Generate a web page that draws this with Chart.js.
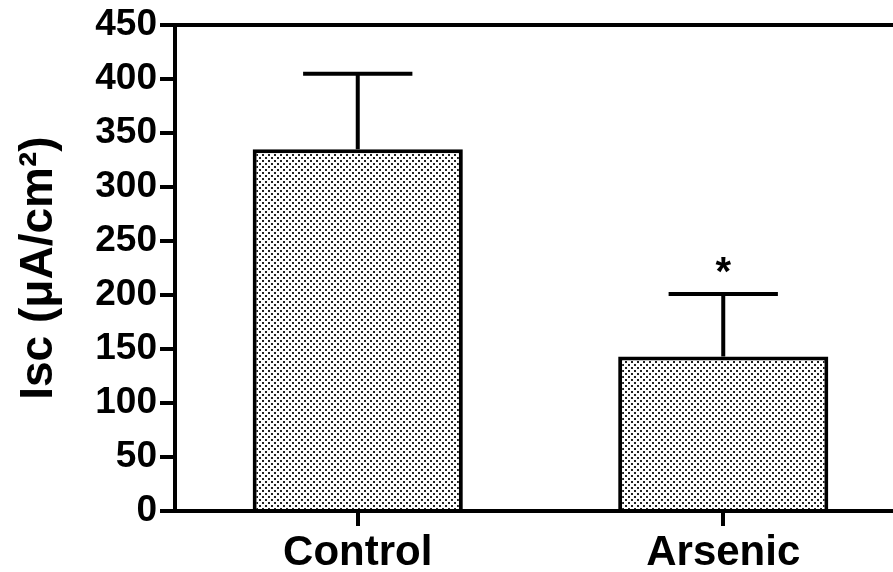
<!DOCTYPE html>
<html>
<head>
<meta charset="utf-8">
<script src="https://cdn.jsdelivr.net/npm/chart.js@4/dist/chart.umd.min.js"></script>
<style>
  html, body { margin: 0; padding: 0; background: #fff; overflow: hidden; }
  #wrap { width: 906px; height: 572px; }
</style>
</head>
<body>
<div id="wrap"><canvas id="c"></canvas></div>
<script>
"use strict";

var groups = ['Control', 'Arsenic'];
var means = [335, 143];
var errTops = [405, 201];
var marks = ['', '*'];
var yTicks = [0, 50, 100, 150, 200, 250, 300, 350, 400, 450];

var FONT = '"Liberation Sans", Arial, Helvetica, sans-serif';

function dotPattern() {
  var p = document.createElement('canvas');
  p.width = 6; p.height = 6;
  var g = p.getContext('2d');
  g.fillStyle = '#fff';
  g.fillRect(0, 0, 6, 6);
  g.fillStyle = '#222';
  g.fillRect(1, 1, 2, 2);
  g.fillRect(4, 4, 2, 2);
  return document.getElementById('c').getContext('2d').createPattern(p, 'repeat');
}

// error bars and significance marks
var errorBars = {
  id: 'errorBars',
  afterDatasetsDraw: function(chart) {
    var ctx = chart.ctx;
    var meta = chart.getDatasetMeta(0);
    var y = chart.scales.y;
    ctx.save();
    ctx.strokeStyle = '#000';
    ctx.lineWidth = 4;
    for (var i = 0; i < means.length; i++) {
      var bar = meta.data[i];
      var cx = bar.x;
      var half = bar.width * 0.26;
      var top = y.getPixelForValue(errTops[i]);
      var base = y.getPixelForValue(means[i]);
      ctx.beginPath();
      ctx.moveTo(cx, base);
      ctx.lineTo(cx, top);
      ctx.moveTo(cx - half, top);
      ctx.lineTo(cx + half, top);
      ctx.stroke();
      if (marks[i]) {
        ctx.fillStyle = '#000';
        ctx.font = 'bold 40px ' + FONT;
        ctx.textAlign = 'center';
        ctx.textBaseline = 'middle';
        ctx.fillText(marks[i], cx, top - 20);
      }
    }
    ctx.restore();
  }
};

new Chart('c', {
  type: 'bar',
  data: {
    labels: groups,
    datasets: [{
      data: means,
      backgroundColor: dotPattern(),
      borderColor: '#000',
      borderWidth: 4,
      borderSkipped: 'start',
      categoryPercentage: 1,
      barPercentage: 0.575
    }]
  },
  options: {
    responsive: true,
    maintainAspectRatio: false,
    animation: false,
    layout: { padding: { top: 22, left: 0, right: 0, bottom: 0 } },
    plugins: { legend: { display: false }, tooltip: { enabled: false } },
    scales: {
      x: {
        offset: true,
        border: { display: true, color: '#000', width: 4 },
        grid: { offset: false, drawOnChartArea: false, color: '#000', tickColor: '#000', tickLength: 15, lineWidth: 4 },
        ticks: { color: '#000', padding: 2, font: { family: FONT, size: 42, weight: 'bold' } },
        afterFit: function(s) { s.height = 61; }
      },
      y: {
        min: 0,
        max: 450,
        afterBuildTicks: function(s) { s.ticks = yTicks.map(function(v) { return { value: v }; }); },
        border: { display: true, color: '#000', width: 4 },
        grid: {
          drawOnChartArea: true,
          lineWidth: 4,
          tickLength: 15,
          tickColor: '#000',
          color: function(c) { return c.tick && c.tick.value === 450 ? '#000' : 'rgba(0,0,0,0)'; }
        },
        ticks: { color: '#000', padding: 3, font: { family: FONT, size: 37, weight: 'bold' } },
        title: {
          display: true,
          text: 'Isc (\u03bcA/cm\u00b2)',
          color: '#000',
          padding: { top: 12, bottom: 0 },
          font: { family: FONT, size: 46, weight: 'bold' }
        },
        afterFit: function(s) { s.width = 175; }
      }
    }
  },
  plugins: [errorBars]
});
</script>
</body>
</html>
